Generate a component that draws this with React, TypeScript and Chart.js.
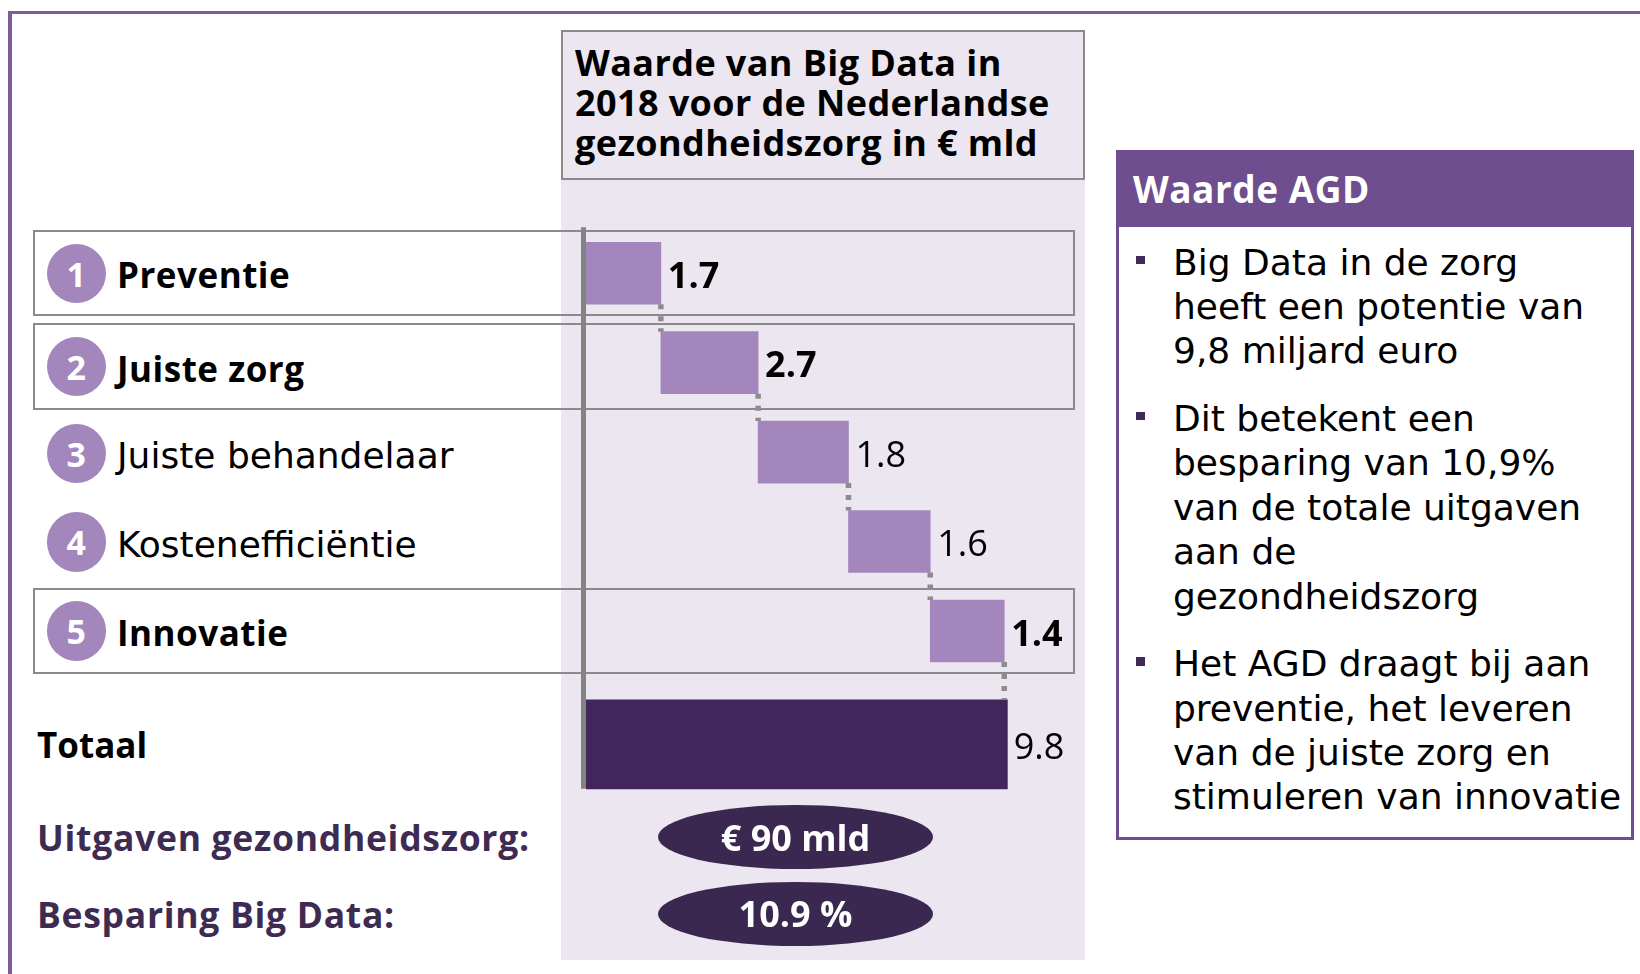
import React, { useEffect, useRef } from "react";
import { Chart, registerables } from "chart.js";

Chart.register(...registerables);

// ---------------- data ----------------
const titleLines = ["Waarde van Big Data in", "2018 voor de Nederlandse", "gezondheidszorg in € mld"];
const stepNumbers = ["1", "2", "3", "4", "5"];
const stepCategories = ["Preventie", "Juiste zorg", "Juiste behandelaar", "Kostenefficiëntie", "Innovatie"];
const stepValues = [1.7, 2.7, 1.8, 1.6, 1.4];
const stepHighlighted = [true, true, false, false, true];
// The source does not draw its steps to scale: cumulative bar ends as drawn (same axis as the total)
const stepBarEnds = [1.74, 4.0, 6.1, 8.0, 9.72];
const totalCategory = "Totaal";
const totalValue = 9.8;
const summaryLabels = ["Uitgaven gezondheidszorg:", "Besparing Big Data:"];
const summaryValues = ["€ 90 mld", "10.9 %"];
const panelTitle = "Waarde AGD";
const panelParagraphs = [
  ["Big Data in de zorg", "heeft een potentie van", "9,8 miljard euro"],
  ["Dit betekent een", "besparing van 10,9%", "van de totale uitgaven", "aan de", "gezondheidszorg"],
  ["Het AGD draagt bij aan", "preventie, het leveren", "van de juiste zorg en", "stimuleren van innovatie"],
];

// ---------------- layout / style ----------------
const LAVENDER = "#ece6f1";
const BAR_LIGHT = "#a386bc";
const BAR_DARK = "#42255a";
const OVAL = "#3a2850";
const FRAME = "#7b5c9c";
const PANEL = "#6f4e8f";
const GRAY = "#8a8a8a";
const TEXT_PURPLE = "#3d2b52";
const OPEN = '"Open Sans", sans-serif';
const DEJAVU = '"DejaVu Sans", sans-serif';

const COL_LEFT = 561;
const COL_WIDTH = 524;
const CANVAS_TOP = 180;
const CANVAS_HEIGHT = 780;
const ROW_CENTERS = [273.3, 366.6, 453.7, 542, 630.8];
const TOTAL_CENTER = 744.3;

function baselineTop(baseline: number, size: number, family: string) {
  const k = family === OPEN ? 0.888 : 0.846;
  return baseline - k * size;
}

function Txt(props: {
  x: number; baseline: number; size: number; family: string; weight?: number; color?: string;
  children: React.ReactNode; center?: boolean; spacing?: number;
}) {
  const { x, baseline, size, family, weight = 400, color = "#000", children, center, spacing = 0 } = props;
  return (
    <div
      style={{
        position: "absolute",
        left: x,
        top: baselineTop(baseline, size, family),
        fontFamily: family,
        fontSize: size,
        fontWeight: weight,
        lineHeight: 1,
        letterSpacing: spacing,
        color,
        whiteSpace: "nowrap",
        transform: center ? "translateX(-50%)" : undefined,
      }}
    >
      {children}
    </div>
  );
}

const waterfallDecor = {
  id: "waterfallDecor",
  afterDatasetsDraw(chart: any) {
    const ctx = chart.ctx as CanvasRenderingContext2D;
    const area = chart.chartArea;
    const steps = chart.getDatasetMeta(0).data as any[];
    const total = chart.getDatasetMeta(1).data[0] as any;
    ctx.save();
    // vertical axis line
    ctx.strokeStyle = "#838383";
    ctx.lineWidth = 5;
    ctx.beginPath();
    ctx.moveTo(area.left - 2.5, area.top - 1.2);
    ctx.lineTo(area.left - 2.5, total.y + total.height / 2);
    ctx.stroke();
    // dotted connectors
    const chain = [...steps, total];
    ctx.strokeStyle = "#8c8c8c";
    ctx.lineWidth = 5.5;
    ctx.setLineDash([5, 7]);
    for (let i = 0; i < steps.length; i++) {
      const a = chain[i];
      const b = chain[i + 1];
      ctx.beginPath();
      ctx.moveTo(a.x, a.y + a.height / 2);
      ctx.lineTo(a.x, b.y - b.height / 2);
      ctx.stroke();
    }
    ctx.setLineDash([]);
    // value labels
    ctx.fillStyle = "#000";
    ctx.textAlign = "left";
    ctx.textBaseline = "alphabetic";
    steps.forEach((bar, i) => {
      ctx.font = `${stepHighlighted[i] ? 700 : 400} 36px "Open Sans"`;
      ctx.fillText(stepValues[i].toFixed(1), bar.x + 7, bar.y + 14.8);
    });
    ctx.font = '400 36px "Open Sans"';
    ctx.fillText(totalValue.toFixed(1), total.x + 6, total.y + 14.8);
    ctx.restore();
  },
};

export default function App() {
  const canvasRef = useRef<HTMLCanvasElement>(null);

  useEffect(() => {
    const canvas = canvasRef.current;
    if (!canvas) return;
    const stepData = stepBarEnds.map((end, i) => [i === 0 ? 0 : stepBarEnds[i - 1], end]);
    const chart = new Chart(canvas, {
      type: "bar",
      data: {
        datasets: [
          {
            label: "stappen",
            data: stepData as any,
            yAxisID: "y",
            xAxisID: "x",
            backgroundColor: BAR_LIGHT,
            borderWidth: 0,
            barThickness: 62,
            grouped: false,
          } as any,
          {
            label: totalCategory,
            data: [[0, totalValue]] as any,
            yAxisID: "y2",
            xAxisID: "x",
            backgroundColor: BAR_DARK,
            borderWidth: 0,
            barThickness: 89,
            grouped: false,
          } as any,
        ],
      },
      options: {
        indexAxis: "y",
        animation: false,
        responsive: false,
        maintainAspectRatio: false,
        events: [],
        layout: { padding: { left: 25, right: 77.3, top: 48.5, bottom: 147.1 } },
        plugins: { legend: { display: false }, tooltip: { enabled: false } },
        scales: {
          x: { type: "linear", min: 0, max: totalValue, display: false },
          y: {
            type: "category",
            labels: stepCategories,
            offset: true,
            display: false,
            position: "left",
            stack: "rows",
            stackWeight: 447.2,
            weight: 1,
          },
          y2: {
            type: "category",
            labels: [totalCategory],
            offset: true,
            display: false,
            position: "left",
            stack: "rows",
            stackWeight: 137.2,
            weight: 0,
          },
        },
      } as any,
      plugins: [waterfallDecor],
    });
    return () => chart.destroy();
  }, []);

  // right panel baselines
  const panelLines: { text: string; baseline: number; first: boolean }[] = [];
  let b = 275;
  panelParagraphs.forEach((p) => {
    p.forEach((line, j) => {
      panelLines.push({ text: line, baseline: b, first: j === 0 });
      b += 44.4;
    });
    b += 23.2;
  });

  return (
    <div
      style={{
        position: "absolute",
        left: 0,
        top: 0,
        width: 1640,
        height: 974,
        background: "#fff",
        overflow: "hidden",
      }}
    >
      {/* outer frame */}
      <div
        style={{
          position: "absolute",
          left: 7.5,
          top: 11,
          width: 1700,
          height: 1000,
          borderTop: `3px solid ${FRAME}`,
          borderLeft: `4px solid ${FRAME}`,
        }}
      />
      {/* lavender column */}
      <div
        style={{
          position: "absolute",
          left: COL_LEFT,
          top: 30,
          width: COL_WIDTH,
          height: 930,
          background: LAVENDER,
        }}
      />
      {/* title box */}
      <div
        style={{
          position: "absolute",
          left: COL_LEFT,
          top: 30,
          width: COL_WIDTH,
          height: 150,
          boxSizing: "border-box",
          border: `2px solid ${GRAY}`,
          background: LAVENDER,
        }}
      />
      {titleLines.map((t, i) => (
        <Txt key={t} x={575} baseline={76.7 + i * 40} size={36} family={OPEN} weight={700} spacing={0.4}>
          {t}
        </Txt>
      ))}

      {/* highlighted row boxes */}
      {ROW_CENTERS.map((c, i) =>
        stepHighlighted[i] ? (
          <div
            key={"box" + i}
            style={{
              position: "absolute",
              left: 33,
              top: c - 43.2,
              width: 1041.6,
              height: 86.4,
              boxSizing: "border-box",
              border: `2px solid ${GRAY}`,
            }}
          />
        ) : null
      )}

      {/* row labels */}
      {ROW_CENTERS.map((c, i) => (
        <React.Fragment key={"row" + i}>
          <div
            style={{
              position: "absolute",
              left: 46.5,
              top: c - 29.8,
              width: 59.6,
              height: 59.6,
              borderRadius: "50%",
              background: BAR_LIGHT,
            }}
          />
          <Txt x={76.3} baseline={c + 13.5} size={34} family={OPEN} weight={700} color="#fff" center>
            {stepNumbers[i]}
          </Txt>
          <Txt
            x={117}
            baseline={c + 15}
            size={stepHighlighted[i] ? 35 : 36}
            family={stepHighlighted[i] ? OPEN : DEJAVU}
            weight={stepHighlighted[i] ? 700 : 400}
            spacing={stepHighlighted[i] ? 0.5 : 0}
          >
            {stepCategories[i]}
          </Txt>
        </React.Fragment>
      ))}
      <Txt x={37} baseline={TOTAL_CENTER + 14} size={35} family={OPEN} weight={700}>
        {totalCategory}
      </Txt>

      {/* chart */}
      <canvas
        ref={canvasRef}
        width={COL_WIDTH}
        height={CANVAS_HEIGHT}
        style={{ position: "absolute", left: COL_LEFT, top: CANVAS_TOP, width: COL_WIDTH, height: CANVAS_HEIGHT }}
      />

      {/* summary */}
      {summaryLabels.map((s, i) => {
        const baseline = i === 0 ? 851.7 : 928.3;
        const ovalTop = i === 0 ? 805 : 881.5;
        return (
          <React.Fragment key={s}>
            <Txt x={37} baseline={baseline} size={35.5} family={OPEN} weight={700} color={TEXT_PURPLE} spacing={0.7}>
              {s}
            </Txt>
            <div
              style={{
                position: "absolute",
                left: 658,
                top: ovalTop,
                width: 275,
                height: 64,
                borderRadius: "50%",
                background: OVAL,
              }}
            />
            <Txt x={795.5} baseline={baseline} size={36} family={OPEN} weight={700} color="#fff" center>
              {summaryValues[i]}
            </Txt>
          </React.Fragment>
        );
      })}

      {/* right panel */}
      <div
        style={{
          position: "absolute",
          left: 1115.5,
          top: 150,
          width: 518.5,
          height: 689.5,
          boxSizing: "border-box",
          border: `3px solid ${PANEL}`,
          background: "#fff",
        }}
      >
        <div style={{ position: "absolute", left: 0, top: 0, right: 0, height: 73.5, background: PANEL }} />
      </div>
      <Txt x={1133} baseline={203} size={37} family={OPEN} weight={700} color="#fff" spacing={0.5}>
        {panelTitle}
      </Txt>
      {panelLines.map((l, i) => (
        <React.Fragment key={"pl" + i}>
          {l.first ? (
            <div
              style={{
                position: "absolute",
                left: 1136,
                top: l.baseline - 19.5,
                width: 8.5,
                height: 8.5,
                background: "#3f2a58",
              }}
            />
          ) : null}
          <Txt x={1173} baseline={l.baseline} size={36} family={DEJAVU}>
            {l.text}
          </Txt>
        </React.Fragment>
      ))}
    </div>
  );
}
